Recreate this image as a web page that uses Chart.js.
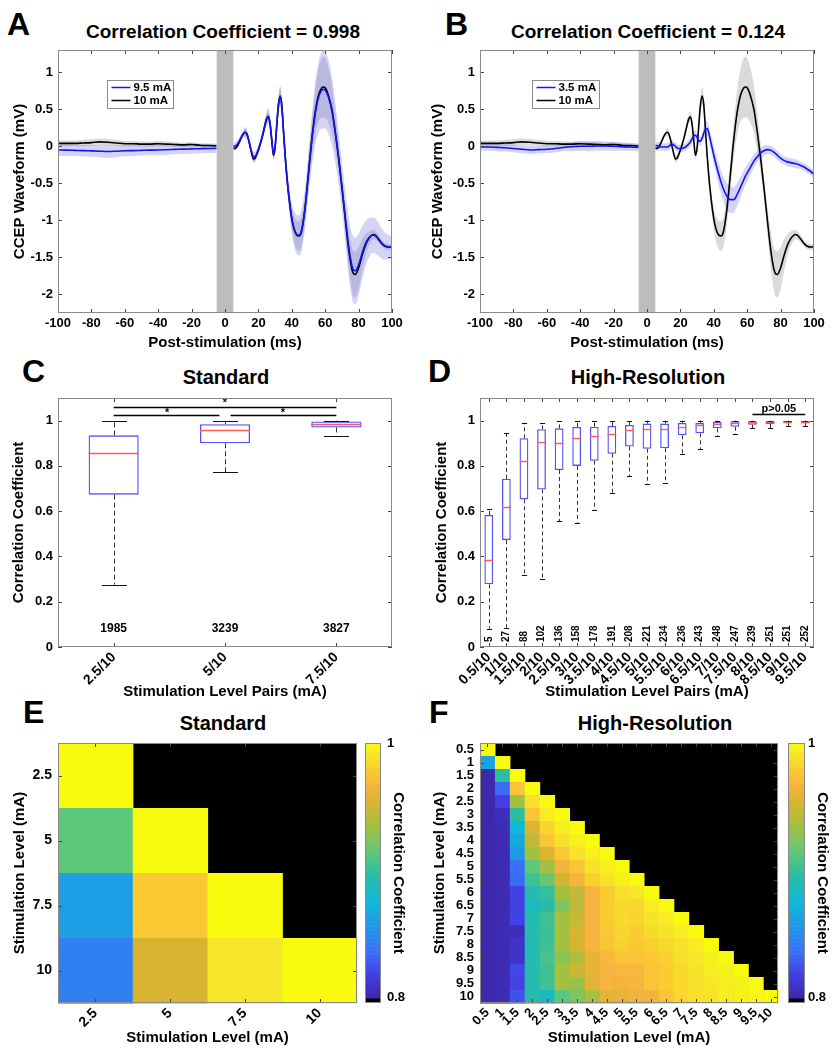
<!DOCTYPE html>
<html>
<head>
<meta charset="utf-8">
<script src="https://cdn.jsdelivr.net/npm/chart.js@4.4.1/dist/chart.umd.min.js"></script>
<style>
body{margin:0;background:#fff;width:840px;height:1050px;position:relative;overflow:hidden;font-family:"Liberation Sans",Arial,sans-serif;}
canvas{position:absolute;}
.lt{position:absolute;font-size:32px;font-weight:bold;line-height:32px;color:#000;}
.ttl{position:absolute;font-weight:bold;color:#000;white-space:nowrap;transform:translate(-50%,-50%);}
</style>
</head>
<body>
<div class="lt" style="left:7px;top:8px">A</div>
<div class="lt" style="left:445px;top:8px">B</div>
<div class="lt" style="left:22px;top:355px">C</div>
<div class="lt" style="left:428px;top:355px">D</div>
<div class="lt" style="left:23px;top:696px">E</div>
<div class="lt" style="left:429px;top:696px">F</div>
<div class="ttl" style="left:223px;top:32px;font-size:19px">Correlation Coefficient = 0.998</div>
<div class="ttl" style="left:648px;top:32px;font-size:19px">Correlation Coefficient = 0.124</div>
<div class="ttl" style="left:226px;top:377px;font-size:20px">Standard</div>
<div class="ttl" style="left:648px;top:377px;font-size:20px">High-Resolution</div>
<div class="ttl" style="left:223px;top:723px;font-size:20px">Standard</div>
<div class="ttl" style="left:655px;top:723px;font-size:20px">High-Resolution</div>

<canvas id="cA" width="420" height="352" style="left:0;top:0"></canvas>
<canvas id="cB" width="420" height="352" style="left:420px;top:0"></canvas>
<canvas id="cC" width="420" height="352" style="left:0;top:352px"></canvas>
<canvas id="cD" width="420" height="352" style="left:420px;top:352px"></canvas>
<canvas id="cE" width="420" height="348" style="left:0;top:702px"></canvas>
<canvas id="cF" width="420" height="348" style="left:420px;top:702px"></canvas>

<script>
// ---------- data: waveforms (A, B) ----------
const stimWindow = [-5, 5];
const waveYTicks = [-2, -1.5, -1, -0.5, 0, 0.5, 1];
const tPre = [-100,-95,-90,-85,-80,-75,-70,-65,-60,-55,-50,-45,-40,-35,-30,-25,-20,-15,-10,-5];
const tPost = [5,6,7,8,9,10,11,12,13,14,15,16,17,18,19,20,21,22,23,24,25,26,27,28,29,30,31,32,33,34,35,36,37,38,
  40,42,44,45,46,48,50,52,54,56,58,59,60,
  62,64,66,68,70,72,74,76,
  77,78,
  80,82,84,86,88,
  89,90,
  92,94,96,98,100];

// 10 mA (black, both panels)
const m10Pre = [0.04,0.04,0.04,0.045,0.05,0.06,0.055,0.045,0.035,0.035,0.03,0.03,0.035,0.03,0.025,0.02,0.025,0.015,0.01,0.005];
const s10Pre = [0.04,0.04,0.04,0.04,0.045,0.045,0.045,0.04,0.04,0.035,0.035,0.035,0.035,0.035,0.03,0.03,0.03,0.03,0.03,0.03];
const m10Post = [-0.02,-0.03,-0.01,0.03,0.08,0.13,0.17,0.19,0.17,0.10,0.0,-0.10,-0.17,-0.16,-0.11,-0.05,0.02,0.10,0.19,0.29,0.37,0.40,0.30,0.08,-0.12,-0.02,0.28,0.56,0.68,0.56,0.22,-0.12,-0.40,-0.63,
  -0.98,-1.16,-1.21,-1.20,-1.13,-0.82,-0.36,0.10,0.46,0.69,0.79,0.80,0.79,
  0.68,0.50,0.20,-0.15,-0.55,-0.98,-1.38,-1.66,
  -1.72,-1.73,
  -1.64,-1.48,-1.34,-1.25,-1.20,
  -1.19,-1.20,
  -1.25,-1.31,-1.35,-1.36,-1.36];
const s10Post = [0.03,0.03,0.03,0.03,0.03,0.03,0.03,0.05,0.05,0.04,0.04,0.04,0.05,0.05,0.04,0.04,0.04,0.04,0.05,0.06,0.07,0.07,0.07,0.06,0.06,0.06,0.08,0.1,0.12,0.11,0.1,0.1,0.11,0.12,
  0.15,0.18,0.2,0.2,0.2,0.2,0.21,0.25,0.3,0.36,0.4,0.41,0.4,
  0.37,0.32,0.26,0.2,0.16,0.18,0.24,0.29,
  0.31,0.31,
  0.28,0.22,0.15,0.1,0.07,
  0.06,0.06,
  0.05,0.04,0.04,0.04,0.04];

// 9.5 mA (blue, panel A)
const m95Pre = [-0.05,-0.052,-0.055,-0.058,-0.062,-0.066,-0.07,-0.066,-0.06,-0.058,-0.055,-0.052,-0.05,-0.046,-0.042,-0.038,-0.035,-0.032,-0.03,-0.03];
const s95Pre = [0.08,0.08,0.08,0.08,0.08,0.085,0.085,0.08,0.075,0.075,0.07,0.07,0.07,0.07,0.065,0.065,0.065,0.06,0.06,0.06];
const m95Post = [0.01,0.0,0.02,0.05,0.09,0.13,0.17,0.19,0.17,0.10,0.01,-0.08,-0.14,-0.14,-0.10,-0.04,0.03,0.11,0.20,0.30,0.38,0.41,0.31,0.09,-0.10,0.0,0.29,0.56,0.67,0.55,0.21,-0.12,-0.40,-0.62,
  -0.97,-1.15,-1.20,-1.19,-1.12,-0.82,-0.37,0.08,0.43,0.66,0.76,0.77,0.76,
  0.66,0.48,0.19,-0.15,-0.54,-0.95,-1.34,-1.61,
  -1.67,-1.68,
  -1.60,-1.45,-1.32,-1.24,-1.20,
  -1.20,-1.21,
  -1.26,-1.32,-1.35,-1.36,-1.36];
const s95Post = [0.05,0.05,0.05,0.05,0.05,0.05,0.05,0.07,0.07,0.06,0.06,0.06,0.07,0.07,0.06,0.06,0.06,0.06,0.07,0.09,0.1,0.11,0.1,0.09,0.08,0.08,0.1,0.12,0.14,0.13,0.13,0.14,0.15,0.17,
  0.2,0.25,0.27,0.28,0.28,0.28,0.3,0.35,0.42,0.48,0.52,0.53,0.52,
  0.5,0.46,0.41,0.36,0.33,0.35,0.4,0.44,
  0.45,0.45,
  0.42,0.36,0.31,0.27,0.24,
  0.24,0.24,
  0.22,0.2,0.18,0.16,0.15];

// 3.5 mA (blue, panel B)
const m35Pre = [-0.01,-0.01,-0.015,-0.02,-0.03,-0.04,-0.05,-0.045,-0.04,-0.03,-0.015,-0.005,0.0,0.0,0.005,0.005,0.0,-0.005,-0.01,-0.015];
const s35Pre = [0.05,0.05,0.05,0.05,0.05,0.055,0.055,0.05,0.05,0.05,0.05,0.06,0.06,0.065,0.065,0.06,0.06,0.055,0.05,0.05];
const m35Post = [0.01,0.01,0.0,-0.01,-0.01,-0.01,-0.01,-0.01,0.0,0.02,0.03,0.02,0.0,-0.02,-0.03,-0.03,-0.03,-0.02,-0.01,0.01,0.03,0.06,0.10,0.14,0.15,0.12,0.07,0.07,0.11,0.18,0.23,0.24,0.18,0.08,
  -0.12,-0.30,-0.46,-0.53,-0.59,-0.68,-0.72,-0.72,-0.65,-0.55,-0.45,-0.40,-0.36,
  -0.28,-0.20,-0.14,-0.09,-0.06,-0.045,-0.05,-0.08,
  -0.10,-0.12,
  -0.16,-0.19,-0.21,-0.22,-0.23,
  -0.235,-0.24,
  -0.26,-0.28,-0.31,-0.34,-0.38];
const s35Post = [0.05,0.05,0.05,0.05,0.05,0.05,0.05,0.05,0.05,0.05,0.05,0.05,0.05,0.05,0.05,0.05,0.05,0.05,0.05,0.05,0.05,0.06,0.06,0.06,0.06,0.06,0.06,0.06,0.06,0.08,0.09,0.1,0.1,0.1,
  0.12,0.14,0.16,0.16,0.17,0.18,0.18,0.17,0.16,0.14,0.12,0.12,0.11,
  0.1,0.09,0.08,0.07,0.07,0.06,0.06,0.06,
  0.06,0.06,
  0.06,0.06,0.06,0.06,0.06,
  0.06,0.06,
  0.05,0.05,0.05,0.05,0.05];

// ---------- data: box plots (C, D) ----------
const ccTicks = [0, 0.2, 0.4, 0.6, 0.8, 1];
const cLabels = ['2.5/10','5/10','7.5/10'];
const cQ1  = [0.673, 0.900, 0.970];
const cMed = [0.855, 0.960, 0.987];
const cQ3  = [0.935, 0.984, 0.996];
const cLo  = [0.276, 0.773, 0.934];
const cHi  = [1, 1, 1];
const cN   = [1985, 3239, 3827];

const dLabels = ['0.5/10','1/10','1.5/10','2/10','2.5/10','3/10','3.5/10','4/10','4.5/10','5/10','5.5/10','6/10','6.5/10','7/10','7.5/10','8/10','8.5/10','9/10','9.5/10'];
const dQ1  = [0.277,0.472,0.652,0.696,0.782,0.800,0.823,0.854,0.886,0.876,0.878,0.935,0.944,0.966,0.973,0.982,0.985,0.990,0.989];
const dMed = [0.383,0.619,0.823,0.906,0.901,0.923,0.934,0.942,0.959,0.962,0.965,0.973,0.981,0.985,0.988,0.993,0.994,0.996,0.996];
const dQ3  = [0.583,0.743,0.922,0.962,0.966,0.972,0.973,0.976,0.981,0.987,0.987,0.990,0.990,0.994,0.997,0.997,0.998,0.998,0.998];
const dLo  = [0.08,0.085,0.316,0.301,0.555,0.549,0.605,0.681,0.755,0.720,0.723,0.853,0.875,0.932,0.940,0.966,0.966,0.976,0.976];
const dHi  = [0.608,0.947,0.991,0.988,0.997,0.997,0.997,0.998,1,1,1,1,1,1,1,1,1,1,1];
const dN   = [5,27,88,102,136,158,178,191,208,221,234,236,243,248,247,239,251,251,252];

// ---------- data: heatmaps (E, F), lower triangle, row = y level ----------
const cbTicks = [0.8, 1];
const eLevels = ['2.5','5','7.5','10'];
const eMatrix = [
  [1],
  [0.914, 1],
  [0.860, 0.978, 1],
  [0.844, 0.955, 0.991, 1]
];
const fLevels = ['0.5','1','1.5','2','2.5','3','3.5','4','4.5','5','5.5','6','6.5','7','7.5','8','8.5','9','9.5','10'];
const fMatrix = [
  [1],
  [0.862,1],
  [0.802,0.898,1],
  [0.802,0.834,0.976,1],
  [0.802,0.818,0.936,0.988,1],
  [0.802,0.806,0.898,0.976,0.994,1],
  [0.802,0.804,0.876,0.956,0.984,0.994,1],
  [0.802,0.804,0.866,0.946,0.976,0.988,0.995,1],
  [0.802,0.804,0.856,0.936,0.956,0.978,0.99,0.995,1],
  [0.802,0.804,0.836,0.914,0.936,0.966,0.976,0.99,0.995,1],
  [0.802,0.804,0.834,0.904,0.918,0.952,0.968,0.982,0.99,0.996,1],
  [0.802,0.804,0.82,0.894,0.9,0.936,0.946,0.968,0.98,0.988,0.992,1],
  [0.802,0.804,0.818,0.886,0.896,0.924,0.944,0.968,0.98,0.986,0.986,0.994,1],
  [0.802,0.804,0.82,0.892,0.904,0.936,0.948,0.968,0.98,0.986,0.984,0.99,0.994,1],
  [0.802,0.804,0.806,0.892,0.902,0.936,0.954,0.968,0.978,0.984,0.98,0.986,0.99,0.994,1],
  [0.802,0.804,0.81,0.892,0.904,0.936,0.952,0.968,0.976,0.982,0.978,0.982,0.986,0.99,0.994,1],
  [0.802,0.804,0.81,0.892,0.906,0.928,0.94,0.96,0.97,0.976,0.976,0.978,0.982,0.988,0.992,0.996,1],
  [0.802,0.804,0.822,0.894,0.904,0.936,0.95,0.96,0.968,0.97,0.97,0.976,0.98,0.986,0.99,0.994,0.996,1],
  [0.802,0.804,0.82,0.894,0.904,0.936,0.932,0.958,0.968,0.966,0.968,0.976,0.98,0.986,0.99,0.992,0.994,0.996,1],
  [0.802,0.804,0.826,0.894,0.886,0.912,0.924,0.938,0.958,0.96,0.964,0.966,0.976,0.984,0.988,0.99,0.994,0.996,0.998,1]
];

// ---------- styling ----------
Chart.defaults.font.family = '"Liberation Sans", Arial, Helvetica, sans-serif';
Chart.defaults.color = '#000';
Chart.defaults.animation = false;
Chart.defaults.plugins.legend.display = false;
Chart.defaults.plugins.tooltip.enabled = false;

const TICK = {size:13, weight:'bold'};
const AXT = {size:15, weight:'bold'};
const BLUE = '#1414ee';
const noGrid = {display:false, drawTicks:false};
const noBorder = {display:false};

// parula-like colour map, 0.8 .. 1
const parulaStops = [
  [0.00,[62,38,168]],[0.10,[66,66,228]],[0.18,[58,112,248]],[0.28,[32,152,232]],
  [0.38,[16,184,216]],[0.48,[40,188,168]],[0.57,[94,200,122]],[0.68,[164,192,64]],
  [0.77,[216,180,48]],[0.84,[248,180,64]],[0.90,[250,204,48]],[0.96,[246,232,40]],[1.00,[249,251,14]]
];
function parula(v){
  let t = Math.max(0, Math.min(1, (v - 0.8) / 0.2));
  for(let i=1;i<parulaStops.length;i++){
    const [t1,c1] = parulaStops[i], [t0,c0] = parulaStops[i-1];
    if(t <= t1){
      const f = (t - t0) / (t1 - t0);
      return `rgb(${c0.map((c,k)=>Math.round(c + (c1[k]-c)*f)).join(',')})`;
    }
  }
  return 'rgb(249,251,14)';
}

// ---------- plugins ----------
const frame = {
  id:'frame',
  afterDatasetsDraw(chart, args, o){
    const {ctx, chartArea:a, scales} = chart;
    const L = o.len || 4;
    ctx.save();
    ctx.strokeStyle = '#444'; ctx.lineWidth = 1;
    ctx.beginPath();
    const xs = scales.x, ys = scales.y;
    xs.ticks.forEach((t,i)=>{
      const p = Math.round(xs.getPixelForTick(i)) + 0.5;
      ctx.moveTo(p, a.bottom); ctx.lineTo(p, a.bottom - L);
      ctx.moveTo(p, a.top); ctx.lineTo(p, a.top + L);
    });
    ys.ticks.forEach((t,i)=>{
      const p = Math.round(ys.getPixelForTick(i)) + 0.5;
      ctx.moveTo(a.left, p); ctx.lineTo(a.left + L, p);
      ctx.moveTo(a.right, p); ctx.lineTo(a.right - L, p);
    });
    ctx.stroke();
    ctx.strokeStyle = '#8a8a8a';
    ctx.strokeRect(Math.round(a.left)+0.5, Math.round(a.top)+0.5, Math.round(a.width)-1, Math.round(a.height)-1);
    ctx.restore();
  }
};

const stimBar = {
  id:'stimBar',
  afterDatasetsDraw(chart, args, o){
    const {ctx, chartArea:a, scales:{x}} = chart;
    const x0 = x.getPixelForValue(o.range[0]), x1 = x.getPixelForValue(o.range[1]);
    ctx.save();
    ctx.fillStyle = '#bdbdbd';
    ctx.fillRect(x0, a.top, x1 - x0, a.height);
    ctx.restore();
  }
};

const insetLegend = {
  id:'insetLegend',
  afterDatasetsDraw(chart, args, o){
    const {ctx, chartArea:a} = chart;
    const x = Math.round(a.left + o.dx) + 0.5, y = Math.round(a.top + o.dy) + 0.5;
    ctx.save();
    ctx.fillStyle = '#fff'; ctx.fillRect(x, y, o.w, o.h);
    ctx.strokeStyle = '#8c8c8c'; ctx.lineWidth = 1; ctx.strokeRect(x, y, o.w, o.h);
    ctx.font = 'bold 11.5px "Liberation Sans", Arial, sans-serif';
    ctx.textBaseline = 'middle'; ctx.textAlign = 'left';
    chart.data.datasets.slice(0,2).forEach((d,i)=>{
      const yy = y + 7 + i*13;
      ctx.strokeStyle = d.borderColor; ctx.lineWidth = 1.5;
      ctx.beginPath(); ctx.moveTo(x+4, yy); ctx.lineTo(x+23, yy); ctx.stroke();
      ctx.fillStyle = '#000'; ctx.fillText(d.label, x+26, yy+0.5);
    });
    ctx.restore();
  }
};

const boxParts = {
  id:'boxParts',
  afterDatasetsDraw(chart, args, o){
    const {ctx, scales:{x, y}} = chart;
    const bars = chart.getDatasetMeta(0).data;
    ctx.save();
    bars.forEach((b,i)=>{
      const cx = Math.round(b.x) + 0.5, hw = b.width/2, cw = hw*o.cap;
      const yq1 = y.getPixelForValue(o.q1[i]), yq3 = y.getPixelForValue(o.q3[i]);
      const ylo = y.getPixelForValue(o.lo[i]), yhi = y.getPixelForValue(o.hi[i]);
      ctx.strokeStyle = '#333'; ctx.lineWidth = 1; ctx.setLineDash(o.dash);
      ctx.beginPath();
      ctx.moveTo(cx, yq3); ctx.lineTo(cx, yhi);
      ctx.moveTo(cx, yq1); ctx.lineTo(cx, ylo);
      ctx.stroke();
      ctx.setLineDash([]);
      ctx.strokeStyle = '#111';
      ctx.beginPath();
      ctx.moveTo(cx - cw, Math.round(yhi)+0.5); ctx.lineTo(cx + cw, Math.round(yhi)+0.5);
      ctx.moveTo(cx - cw, Math.round(ylo)+0.5); ctx.lineTo(cx + cw, Math.round(ylo)+0.5);
      ctx.stroke();
      ctx.strokeStyle = '#ff5a5a'; ctx.lineWidth = 1.4;
      const ym = Math.round(y.getPixelForValue(o.med[i])) + 0.5;
      ctx.beginPath(); ctx.moveTo(b.x - hw, ym); ctx.lineTo(b.x + hw, ym); ctx.stroke();
      // counts
      ctx.fillStyle = '#000';
      ctx.font = `bold ${o.countSize}px "Liberation Sans", Arial, sans-serif`;
      if(o.countRot){
        ctx.save();
        ctx.translate(b.x, y.getPixelForValue(o.countY));
        ctx.rotate(-Math.PI/2);
        ctx.textAlign = 'left'; ctx.textBaseline = 'middle';
        ctx.fillText(String(o.counts[i]), 0, 0);
        ctx.restore();
      } else {
        ctx.textAlign = 'center'; ctx.textBaseline = 'middle';
        ctx.fillText(String(o.counts[i]), b.x, y.getPixelForValue(o.countY));
      }
    });
    // significance bars
    ctx.strokeStyle = '#000'; ctx.lineWidth = 1.3;
    (o.sigLines||[]).forEach(s=>{
      const yy = Math.round(y.getPixelForValue(s.y)) + 0.5;
      ctx.beginPath(); ctx.moveTo(x.getPixelForValue(s.from), yy); ctx.lineTo(x.getPixelForValue(s.to), yy); ctx.stroke();
    });
    ctx.fillStyle = '#000'; ctx.textAlign = 'center'; ctx.textBaseline = 'middle';
    (o.sigText||[]).forEach(s=>{
      ctx.font = `bold ${s.size}px "Liberation Sans", Arial, sans-serif`;
      ctx.fillText(s.text, x.getPixelForValue(s.x), y.getPixelForValue(s.y));
    });
    ctx.restore();
  }
};

const heatmap = {
  id:'heatmap',
  beforeDatasetsDraw(chart, args, o){
    const {ctx, chartArea:a, scales:{x, y, cb}} = chart;
    ctx.save();
    ctx.fillStyle = '#000';
    ctx.fillRect(a.left, a.top, a.width, a.height);
    o.matrix.forEach((row,i)=>row.forEach((v,j)=>{
      const x0 = x.getPixelForValue(j+0.5), x1 = x.getPixelForValue(j+1.5);
      const y0 = y.getPixelForValue(i+0.5), y1 = y.getPixelForValue(i+1.5);
      ctx.fillStyle = parula(v);
      ctx.fillRect(Math.min(x0,x1), Math.min(y0,y1), Math.abs(x1-x0)+0.6, Math.abs(y1-y0)+0.6);
    }));
    // colour bar
    const bx = Math.round(a.right + o.gap), bw = o.width;
    const yBot = cb.getPixelForValue(cb.min), y08 = cb.getPixelForValue(0.8);
    ctx.fillStyle = '#000'; ctx.fillRect(bx, y08, bw, yBot - y08);
    const n = 64;
    for(let k=0;k<n;k++){
      const v0 = 0.8 + 0.2*k/n, v1 = 0.8 + 0.2*(k+1)/n;
      const p0 = cb.getPixelForValue(v0), p1 = cb.getPixelForValue(v1);
      ctx.fillStyle = parula((v0+v1)/2);
      ctx.fillRect(bx, p1, bw, p0 - p1 + 0.6);
    }
    ctx.strokeStyle = '#8a8a8a'; ctx.lineWidth = 1;
    ctx.strokeRect(bx+0.5, Math.round(a.top)+0.5, bw-1, Math.round(a.height)-1);
    ctx.restore();
  }
};

// ---------- builders ----------
function series(mPre, mPost, sPre, sPost, k){
  const a = tPre.map((t,i)=>({x:t, y:mPre[i] + k*sPre[i]}));
  const b = tPost.map((t,i)=>({x:t, y:mPost[i] + k*sPost[i]}));
  return a.concat([{x:0, y:null}], b);
}
function lineSet(label, color, data){
  return {label, data, borderColor:color, borderWidth:1.6, pointRadius:0, cubicInterpolationMode:'monotone', fill:false};
}
function bandSet(color, data, fill){
  return {label:'', data, borderWidth:0, borderColor:'rgba(0,0,0,0)', backgroundColor:color, pointRadius:0, cubicInterpolationMode:'monotone', fill};
}
function waveChart(id, lowLabel, mPre, mPost, sPre, sPost, L, R, yPad, dx, w){
  new Chart(document.getElementById(id), {
    type:'line',
    data:{datasets:[
      lineSet(lowLabel, BLUE, series(mPre, mPost, sPre, sPost, 0)),
      lineSet('10 mA', '#000', series(m10Pre, m10Post, s10Pre, s10Post, 0)),
      bandSet('rgba(100,100,235,0.28)', series(mPre, mPost, sPre, sPost, 1), '+1'),
      bandSet('rgba(100,100,235,0.28)', series(mPre, mPost, sPre, sPost, -1), false),
      bandSet('rgba(150,150,150,0.35)', series(m10Pre, m10Post, s10Pre, s10Post, 1), '+1'),
      bandSet('rgba(150,150,150,0.35)', series(m10Pre, m10Post, s10Pre, s10Post, -1), false)
    ]},
    options:{
      responsive:false,
      layout:{padding:{top:50, right:R, left:0, bottom:0}},
      scales:{
        x:{type:'linear', min:-100, max:100,
          ticks:{stepSize:20, font:TICK, padding:3, maxRotation:0, callback:v=>String(v)},
          grid:noGrid, border:noBorder,
          title:{display:true, text:'Post-stimulation (ms)', font:AXT, padding:{top:0, bottom:0.5}},
          afterFit:s=>{ s.height = 39; }},
        y:{type:'linear', min:-2.25, max:1.3,
          afterBuildTicks:s=>{ s.ticks = waveYTicks.map(v=>({value:v})); },
          ticks:{font:TICK, padding:5, callback:v=>String(v)},
          grid:noGrid, border:noBorder,
          title:{display:true, text:'CCEP Waveform (mV)', font:AXT, padding:{top:yPad, bottom:0}},
          afterFit:s=>{ s.width = L; }}
      },
      plugins:{stimBar:{range:stimWindow}, insetLegend:{dx, dy:30, w, h:28}, frame:{}}
    },
    plugins:[stimBar, insetLegend, frame]
  });
}
function boxChart(id, labels, q1, med, q3, lo, hi, counts, L, R, yPad, extra){
  new Chart(document.getElementById(id), {
    type:'bar',
    data:{labels, datasets:[{
      data:q1.map((v,i)=>[v, q3[i]]),
      backgroundColor:'rgba(255,255,255,0)', borderColor:'#5252f5', borderWidth:1.3,
      borderSkipped:false, barPercentage:extra.barPct, categoryPercentage:1
    }]},
    options:{
      responsive:false,
      layout:{padding:{top:46, right:R, left:0, bottom:0}},
      scales:{
        x:{ticks:{font:{size:14, weight:'bold'}, autoSkip:false, maxRotation:45, minRotation:45, padding:2},
          grid:noGrid, border:noBorder,
          title:{display:true, text:'Stimulation Level Pairs (mA)', font:AXT, padding:{top:0, bottom:3}},
          afterFit:s=>{ s.height = 57; }},
        y:{min:0, max:1.1,
          afterBuildTicks:s=>{ s.ticks = ccTicks.map(v=>({value:v})); },
          ticks:{font:TICK, padding:5, callback:v=>String(v)},
          grid:noGrid, border:noBorder,
          title:{display:true, text:'Correlation Coefficient', font:AXT, padding:{top:yPad, bottom:0}},
          afterFit:s=>{ s.width = L; }}
      },
      plugins:{boxParts:Object.assign({q1, med, q3, lo, hi, counts}, extra), frame:{}}
    },
    plugins:[boxParts, frame]
  });
}
function heatChart(id, levels, matrix, L, cbW, yPad, cbPad, gap, width, tickSize){
  const n = levels.length;
  const tf = {size:tickSize, weight:'bold'};
  new Chart(document.getElementById(id), {
    type:'scatter',
    data:{datasets:[]},
    options:{
      responsive:false,
      layout:{padding:{top:41, right:0, left:0, bottom:0}},
      scales:{
        x:{type:'linear', min:0.5, max:n+0.5,
          afterBuildTicks:s=>{ s.ticks = levels.map((_,i)=>({value:i+1})); },
          ticks:{font:tf, autoSkip:false, maxRotation:45, minRotation:45, padding:2, callback:v=>levels[v-1]},
          grid:noGrid, border:noBorder,
          title:{display:true, text:'Stimulation Level (mA)', font:AXT, padding:{top:0, bottom:3}},
          afterFit:s=>{ s.height = 47; }},
        y:{type:'linear', reverse:true, min:0.5, max:n+0.5,
          afterBuildTicks:s=>{ s.ticks = levels.map((_,i)=>({value:i+1})); },
          ticks:{font:tf, autoSkip:false, padding:6, callback:v=>levels[v-1]},
          grid:noGrid, border:noBorder,
          title:{display:true, text:'Stimulation Level (mA)', font:AXT, padding:{top:yPad, bottom:0}},
          afterFit:s=>{ s.width = L; }},
        cb:{type:'linear', position:'right', min:0.796, max:1,
          afterBuildTicks:s=>{ s.ticks = cbTicks.map(v=>({value:v})); },
          ticks:{font:TICK, padding:30, callback:v=>String(v)},
          grid:noGrid, border:noBorder,
          title:{display:true, text:'Correlation Coefficient', font:AXT, padding:{top:cbPad, bottom:0}},
          afterFit:s=>{ s.width = cbW; }}
      },
      plugins:{heatmap:{matrix, gap, width}, frame:{}}
    },
    plugins:[heatmap, frame]
  });
}

// ---------- panels ----------
waveChart('cA', '9.5 mA', m95Pre, m95Post, s95Pre, s95Post, 58, 28, 11, 49, 66);
waveChart('cB', '3.5 mA', m35Pre, m35Post, s35Pre, s35Post, 60, 26, 8.5, 52, 67);

boxChart('cC', cLabels, cQ1, cMed, cQ3, cLo, cHi, cN, 58, 28, 9.5, {
  barPct:0.45, cap:0.5, dash:[5,3], countY:0.081, countSize:12, countRot:false,
  sigLines:[{from:0, to:0.95, y:1.025}, {from:1.05, to:2, y:1.025}, {from:0, to:2, y:1.062}],
  sigText:[{x:0.48, y:1.036, text:'*', size:11}, {x:1.52, y:1.036, text:'*', size:11}, {x:1, y:1.076, text:'*', size:11}]
});
boxChart('cD', dLabels, dQ1, dMed, dQ3, dLo, dHi, dN, 60, 26, 13, {
  barPct:0.5, cap:0.6, dash:[4,3], countY:0.022, countSize:10, countRot:true,
  sigLines:[{from:15, to:18, y:1.028}],
  sigText:[{x:16.5, y:1.052, text:'p>0.05', size:11}]
});

heatChart('cE', eLevels, eMatrix, 58, 63, 10.5, 13, 8, 16, 14);
heatChart('cF', fLevels, fMatrix, 60, 62, 10.5, 9, 10, 17, 13);
</script>
</body>
</html>
